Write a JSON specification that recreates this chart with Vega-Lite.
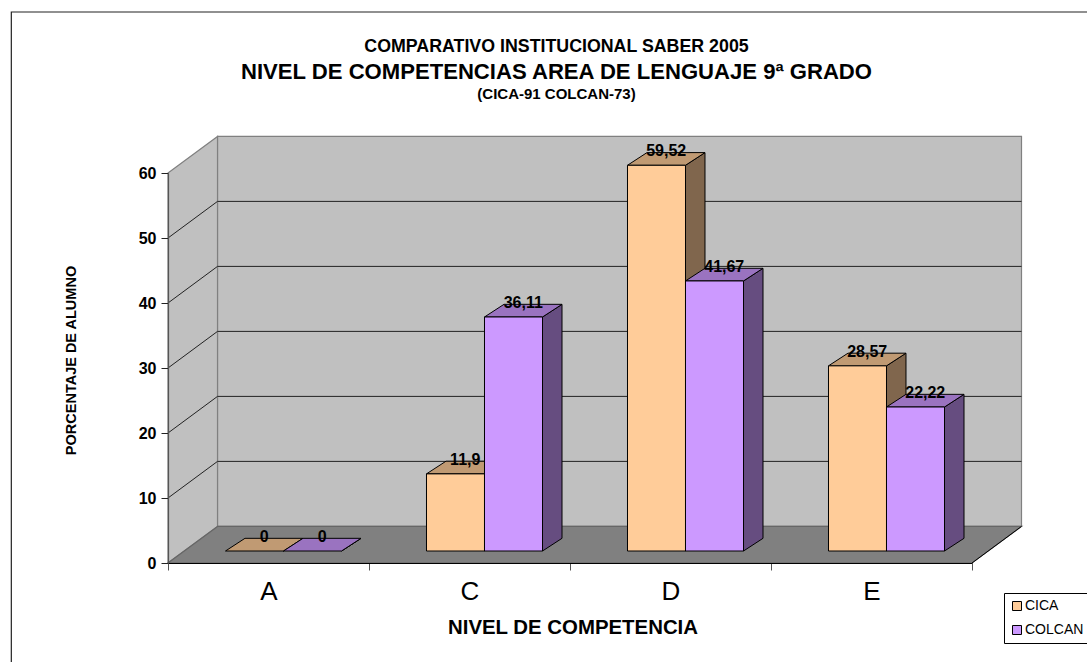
{
"$schema":"https://vega.github.io/schema/vega-lite/v6.json",
"width":804,"height":390,
"autosize":{"type":"none"},
"padding":{"left":168,"top":173,"right":115,"bottom":99},
"background":"white",
"config":{"view":{"stroke":null},"font":"Liberation Sans"},
"title":{"text":"COMPARATIVO INSTITUCIONAL SABER 2005","subtitle":"NIVEL DE COMPETENCIAS AREA DE LENGUAJE 9ª GRADO","anchor":"middle","frame":"group","dx":-13.5,"offset":-72,"font":"Liberation Sans","fontSize":17.8,"fontWeight":"bold","color":"black","subtitleFont":"Liberation Sans","subtitleFontSize":22.1,"subtitleFontWeight":"bold","subtitleColor":"black","subtitlePadding":6},
"datasets":{
"barras":[
{"nivel":"A","serie":"CICA","valor":0},{"nivel":"A","serie":"COLCAN","valor":0},
{"nivel":"C","serie":"CICA","valor":11.9},{"nivel":"C","serie":"COLCAN","valor":36.11},
{"nivel":"D","serie":"CICA","valor":59.52},{"nivel":"D","serie":"COLCAN","valor":41.67},
{"nivel":"E","serie":"CICA","valor":28.57},{"nivel":"E","serie":"COLCAN","valor":22.22}],
"rejilla":[{"v":10},{"v":20},{"v":30},{"v":40},{"v":50}],
"fondo":[{"d":0},{"d":1}]
},
"resolve":{"scale":{"x":"independent"}},
"layer":[
{"layer":[
{"data":{"values":[{}]},"mark":{"type":"rect","fill":"transparent","stroke":"#222","strokeWidth":1.2,"clip":false},
 "encoding":{"x":{"datum":-0.7795,"type":"quantitative","scale":{"domain":[0,4],"nice":false,"zero":false},"axis":null},"x2":{"datum":5},
 "y":{"datum":84.77,"type":"quantitative","scale":{"domain":[0,60],"nice":false,"zero":false},"axis":{"title":"PORCENTAJE DE ALUMNO","values":[0,10,20,30,40,50,60],"grid":false,"zindex":1,"labelFontSize":16,"labelFontWeight":"bold","labelColor":"black","labelFont":"Liberation Sans","tickColor":"#222","tickSize":7,"labelPadding":5,"domainColor":"#555","domainWidth":1.2,"titleFontSize":14.5,"titleFontWeight":"bold","titleColor":"black","titleFont":"Liberation Sans","titleX":-90,"titleY":187}},"y2":{"datum":-30}}},
{"data":{"name":"fondo"},"mark":{"type":"rect","fill":"#C0C0C0","stroke":"#808080","strokeWidth":1.2},
 "transform":[{"filter":"datum.d==0"}],
 "encoding":{"x":{"datum":0.2463,"type":"quantitative"},"x2":{"datum":4.2463},"y":{"datum":5.63,"type":"quantitative"},"y2":{"datum":65.63}}},
{"data":{"name":"fondo"},"mark":{"type":"area","orient":"vertical","fill":"#C0C0C0","stroke":"#808080","strokeWidth":1.2},
 "transform":[{"calculate":"datum.d*0.2463","as":"xx"},{"calculate":"datum.d*5.63","as":"yb"},{"calculate":"60+datum.d*5.63","as":"yt"}],
 "encoding":{"x":{"field":"xx","type":"quantitative"},"y":{"field":"yt","type":"quantitative"},"y2":{"field":"yb"}}},
{"data":{"name":"rejilla"},"mark":{"type":"rule","stroke":"#222","strokeWidth":1},
 "transform":[{"calculate":"datum.v+5.63","as":"vb"}],
 "encoding":{"x":{"datum":0.2463,"type":"quantitative"},"x2":{"datum":4.2463},"y":{"field":"vb","type":"quantitative"}}},
{"data":{"name":"rejilla"},"mark":{"type":"rule","stroke":"#222","strokeWidth":1},
 "transform":[{"calculate":"datum.v+5.63","as":"vb"}],
 "encoding":{"x":{"datum":0,"type":"quantitative"},"x2":{"datum":0.2463},"y":{"field":"v","type":"quantitative"},"y2":{"field":"vb"}}},
{"data":{"name":"fondo"},"mark":{"type":"area","orient":"horizontal","fill":"#808080","stroke":"#666666","strokeWidth":1.2},
 "transform":[{"calculate":"datum.d*0.2463","as":"xa"},{"calculate":"4+datum.d*0.2463","as":"xb"},{"calculate":"datum.d*5.63","as":"yy"}],
 "encoding":{"y":{"field":"yy","type":"quantitative"},"x":{"field":"xa","type":"quantitative"},"x2":{"field":"xb"}}},
{"data":{"values":[{}]},"mark":{"type":"rule","stroke":"black","strokeWidth":1},
 "encoding":{"x":{"datum":4,"type":"quantitative"},"x2":{"datum":4.2463},"y":{"datum":0,"type":"quantitative"},"y2":{"datum":5.63}}},
{"data":{"name":"barras"},"mark":{"type":"area","orient":"vertical","stroke":"black","strokeWidth":1},
 "transform":[
 {"calculate":"indexof(['A','C','D','E'],datum.nivel)+0.5746+(datum.serie=='CICA'?-0.2886:0)","as":"x0"},
 {"calculate":"datum.valor*0.997+1.846","as":"top"},
 {"calculate":"[0,1]","as":"d"},{"flatten":["d"]},
 {"calculate":"datum.x0+0.2886+datum.d*0.097","as":"xx"},
 {"calculate":"datum.top+datum.d*1.95","as":"yt"},
 {"calculate":"1.846+datum.d*1.95","as":"yb"},
 {"calculate":"datum.nivel+datum.serie","as":"clave"}],
 "encoding":{"x":{"field":"xx","type":"quantitative"},"y":{"field":"yt","type":"quantitative"},"y2":{"field":"yb"},"detail":{"field":"clave"},
 "fill":{"condition":{"test":"datum.serie=='CICA'","value":"#80664D"},"value":"#664D80"}}},
{"data":{"name":"barras"},"mark":{"type":"area","orient":"horizontal","stroke":"black","strokeWidth":1},
 "transform":[
 {"calculate":"indexof(['A','C','D','E'],datum.nivel)+0.5746+(datum.serie=='CICA'?-0.2886:0)","as":"x0"},
 {"calculate":"datum.valor*0.997+1.846","as":"top"},
 {"calculate":"[0,1]","as":"d"},{"flatten":["d"]},
 {"calculate":"datum.x0+datum.d*0.097","as":"xa"},
 {"calculate":"datum.x0+0.2886+datum.d*0.097","as":"xb"},
 {"calculate":"datum.top+datum.d*1.95","as":"yy"},
 {"calculate":"datum.nivel+datum.serie","as":"clave"}],
 "encoding":{"y":{"field":"yy","type":"quantitative"},"x":{"field":"xa","type":"quantitative"},"x2":{"field":"xb"},"detail":{"field":"clave"},
 "fill":{"condition":{"test":"datum.serie=='CICA'","value":"#C09A73"},"value":"#9A73C0"}}},
{"data":{"name":"barras"},"mark":{"type":"rect","stroke":"black","strokeWidth":1},
 "transform":[
 {"filter":"datum.valor>0"},
 {"calculate":"indexof(['A','C','D','E'],datum.nivel)+0.5746+(datum.serie=='CICA'?-0.2886:0)","as":"x0"},
 {"calculate":"datum.x0+0.2886","as":"x1"},
 {"calculate":"datum.valor*0.997+1.846","as":"top"},
 {"calculate":"1.846","as":"base"}],
 "encoding":{"x":{"field":"x0","type":"quantitative"},"x2":{"field":"x1"},"y":{"field":"top","type":"quantitative"},"y2":{"field":"base"},
 "fill":{"field":"serie","type":"nominal","scale":{"domain":["CICA","COLCAN"],"range":["#FFCC99","#CC99FF"]},
 "legend":{"title":null,"orient":"none","legendX":836,"legendY":420,"symbolType":"square","symbolSize":81,"symbolStrokeColor":"black","symbolStrokeWidth":1,"labelFontSize":14,"labelFont":"Liberation Sans","labelColor":"black","strokeColor":"black","fillColor":"white","padding":6,"rowPadding":10,"labelOffset":1}}}},
{"data":{"name":"barras"},"mark":{"type":"text","fontSize":16,"fontWeight":"bold","color":"black","font":"Liberation Sans","baseline":"middle","align":"center"},
 "transform":[
 {"calculate":"indexof(['A','C','D','E'],datum.nivel)+0.5746+(datum.serie=='CICA'?-0.2886:0)+0.1443+0.0485","as":"xc"},
 {"calculate":"datum.valor*0.997+1.846+2.15","as":"yc"},
 {"calculate":"replace(''+datum.valor,'.',',')","as":"rotulo"}],
 "encoding":{"x":{"field":"xc","type":"quantitative"},"y":{"field":"yc","type":"quantitative"},"text":{"field":"rotulo"}}},
{"data":{"values":[{"linea":"(CICA-91 COLCAN-73)"}]},"mark":{"type":"text","fontSize":15,"fontWeight":"bold","color":"black","font":"Liberation Sans","baseline":"middle","align":"center"},
 "encoding":{"x":{"datum":1.933,"type":"quantitative"},"y":{"datum":72.2,"type":"quantitative"},"text":{"field":"linea"}}}
]},
{"data":{"name":"barras"},"mark":{"type":"rule","opacity":0},
 "encoding":{"x":{"field":"nivel","type":"nominal","scale":{"type":"band","domain":["A","C","D","E"],"paddingInner":0,"paddingOuter":0},
 "axis":{"orient":"bottom","title":"NIVEL DE COMPETENCIA","tickBand":"extent","labelAngle":0,"grid":false,"zindex":1,"labelFontSize":26,"labelFont":"Liberation Sans","labelColor":"black","labelPadding":8,"tickColor":"#555","tickSize":7,"domainColor":"black","domainWidth":1.2,"titleFontSize":20.4,"titleFontWeight":"bold","titleColor":"black","titleFont":"Liberation Sans","titleX":404.5,"titleY":64.5,"titleBaseline":"middle"}}}}
]
}
